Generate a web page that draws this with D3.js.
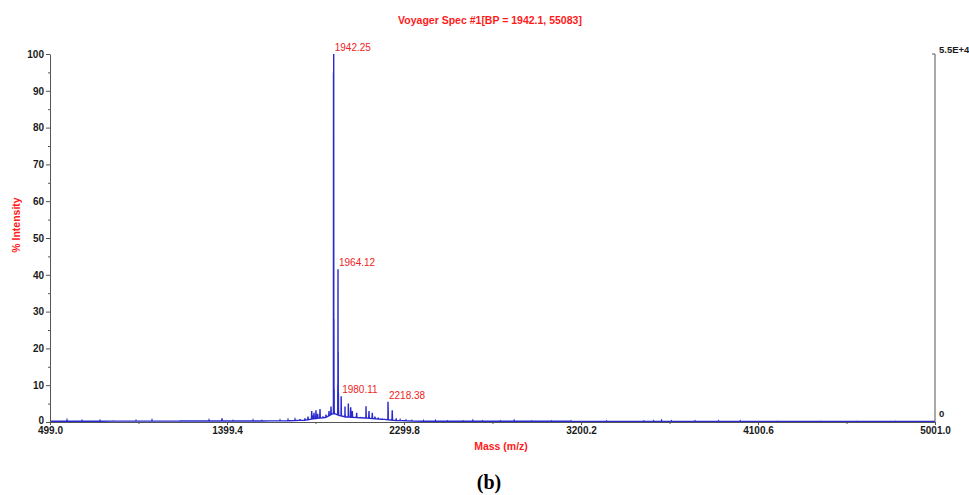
<!DOCTYPE html>
<html>
<head>
<meta charset="utf-8">
<script src="https://cdn.jsdelivr.net/npm/d3@7"></script>
<style>
    body { margin: 0; background: #fff; }
    svg { display: block; font-family: "Liberation Sans", Arial, sans-serif; }
    .tick text { font-size: 10px; font-weight: bold; fill: #1a1a1a; }
    .axisLabel { fill: #ff1a1a; font-size: 10.5px; font-weight: bold; }
    .peakLabel { fill: #ee1c24; font-size: 10px; }
</style>
</head>
<body>
<svg id="spectrum"></svg>
<script>
// x ticks (m/z) and y ticks (% intensity)
const massTicks = [499.0, 1399.4, 2299.8, 3200.2, 4100.6, 5001.0];
const massMinor = [949.2, 1849.6, 2750.0, 3650.4, 4550.8];
const intensityTicks = [0, 10, 20, 30, 40, 50, 60, 70, 80, 90, 100];
const intensityMinor = [5, 15, 25, 35, 45, 55, 65, 75, 85, 95];

// peaks
const peakMass = [585.5, 661.8, 753, 819.5, 936.5, 1017.9, 1160, 1307.8, 1374, 1430, 1465.5,
    1531.7, 1577.4, 1618, 1669, 1709.7, 1745.3, 1770.8, 1796.2, 1811.5,
    1830.3, 1836.8, 1842, 1852, 1860.8, 1872.5, 1887.8, 1903, 1918.3, 1928.4,
    1941.2, 1942.25, 1943.3, 1944.3, 1945.3,
    1963.1, 1964.12, 1965.1, 1966.1, 1967.1, 1980.11, 1981.1,
    1999.7, 2000.7, 2016.5, 2017.5, 2028.7, 2036.8, 2059, 2080,
    2106.5, 2107.5, 2121.7, 2138.5, 2152, 2169, 2190,
    2218.38, 2219.4, 2240, 2260, 2280, 2310, 2340,
    2400, 2460, 2520, 2600, 2650, 2700, 2790, 2860, 2950, 3050, 3150,
    3330, 3520, 3570, 3610, 3660, 3780, 3900, 4010, 4200, 4420, 4600, 4800];
const peakIntensity = [0.5, 0.4, 0.4, 0.3, 0.4, 0.5, 0.3, 0.5, 1.0, 0.4, 0.3,
    0.5, 0.4, 0.3, 0.5, 0.6, 0.7, 0.8, 1.0, 1.5,
    3.0, 1.8, 2.5, 3.2, 2.2, 3.5, 1.5, 2.0, 3.0, 4.2,
    95, 100, 28, 9, 3,
    10, 41.5, 19, 8, 3, 7, 3,
    4.2, 2, 5, 3, 4, 3, 2.5, 1.2,
    4.3, 2, 3, 2.5, 1.5, 1.2, 0.8,
    5.5, 3, 3.2, 1, 0.6, 0.5, 0.4,
    0.3, 0.4, 0.3, 0.3, 0.4, 0.3, 0.3, 0.4, 0.3, 0.3, 0.3,
    0.3, 0.3, 0.3, 0.4, 0.3, 0.3, 0.3, 0.3, 0.2, 0.2, 0.2, 0.2];

// baseline level under the spectrum
const baseMass = [499, 1700, 1800, 1840, 1900, 1935, 1950, 1970, 2000, 2100, 2200, 2260, 2400, 5001];
const baseLevel = [0.2, 0.3, 0.5, 0.9, 1.2, 2.2, 2.2, 1.8, 1.4, 1.1, 0.7, 0.4, 0.2, 0.15];

// labelled peaks
const labelMass = [1942.25, 1964.12, 1980.11, 2218.38];
const labelIntensity = [100, 41.5, 7, 5.5];

const margin = { top: 54, right: 34, bottom: 73, left: 50 };
const width = 969, height = 495;
const plotW = width - margin.left - margin.right;
const plotH = height - margin.top - margin.bottom;

const svg = d3.select('#spectrum').attr('width', width).attr('height', height);

const x = d3.scaleLinear().domain([499.0, 5001.0]).range([0, plotW]);
const y = d3.scaleLinear().domain([0, 100]).range([plotH, 0]);
const base = d3.scaleLinear().domain(baseMass).range(baseLevel);

const plot = svg.append('g')
    .attr('transform', 'translate(' + margin.left + ',' + margin.top + ')');

// spectrum vertices: baseline points plus a narrow spike per peak
let pts = baseMass.map((m, i) => [m, baseLevel[i]]);
peakMass.forEach((m, i) => {
    pts.push([m - 1.5, base(m - 1.5)]);
    pts.push([m, peakIntensity[i]]);
    pts.push([m + 1.5, base(m + 1.5)]);
});
pts.sort((a, b) => a[0] - b[0]);

plot.append('path')
    .datum(pts)
    .attr('fill', 'none')
    .attr('stroke', '#2a2acc')
    .attr('stroke-width', 1.4)
    .attr('d', d3.line().x(d => x(d[0])).y(d => y(d[1])));

// left axis
plot.append('g')
    .attr('class', 'yAxis')
    .call(d3.axisLeft(y).tickValues(intensityTicks).tickSize(4).tickSizeOuter(0).tickPadding(2));
plot.select('.yAxis .tick text').attr('dy', '0.1em');
plot.append('g')
    .call(d3.axisLeft(y).tickValues(intensityMinor).tickSize(2).tickSizeOuter(0).tickFormat(''))
    .select('.domain').remove();

// bottom axis
plot.append('g')
    .attr('transform', 'translate(0,' + plotH + ')')
    .call(d3.axisBottom(x).tickValues(massTicks).tickSize(3).tickSizeOuter(0)
        .tickPadding(2).tickFormat(d3.format('.1f')));
plot.append('g')
    .attr('transform', 'translate(0,' + plotH + ')')
    .call(d3.axisBottom(x).tickValues(massMinor).tickSize(2).tickSizeOuter(0).tickFormat(''))
    .select('.domain').remove();

plot.selectAll('.domain, .tick line').attr('stroke', '#555');

// right axis (absolute counts)
plot.append('line')
    .attr('x1', plotW).attr('x2', plotW)
    .attr('y1', 0).attr('y2', plotH)
    .attr('stroke', '#555');
plot.append('line')
    .attr('x1', plotW - 3).attr('x2', plotW)
    .attr('y1', 0).attr('y2', 0)
    .attr('stroke', '#555');
plot.append('text')
    .attr('x', plotW + 4).attr('y', -1)
    .style('font-size', '9.5px').style('font-weight', 'bold').attr('fill', '#1a1a1a')
    .text('5.5E+4');
plot.append('text')
    .attr('x', plotW + 4).attr('y', plotH - 5)
    .style('font-size', '9.5px').style('font-weight', 'bold').attr('fill', '#1a1a1a')
    .text('0');

// peak labels
plot.selectAll('.peakLabel')
    .data(labelMass)
    .join('text')
    .attr('class', 'peakLabel')
    .attr('x', d => x(d) + 1)
    .attr('y', (d, i) => y(labelIntensity[i]) - 3)
    .text(d => d.toFixed(2));

// titles
svg.append('text')
    .attr('class', 'axisLabel')
    .attr('x', 490).attr('y', 24)
    .style('text-anchor', 'middle')
    .text('Voyager Spec #1[BP = 1942.1, 55083]');

svg.append('text')
    .attr('class', 'axisLabel')
    .attr('transform', 'translate(20,225) rotate(-90)')
    .style('text-anchor', 'middle')
    .text('% Intensity');

svg.append('text')
    .attr('class', 'axisLabel')
    .attr('x', 501).attr('y', 450)
    .style('text-anchor', 'middle')
    .text('Mass (m/z)');

svg.append('text')
    .attr('x', 489).attr('y', 489)
    .style('text-anchor', 'middle')
    .style('font-family', '"Liberation Serif", "DejaVu Serif", serif')
    .style('font-size', '20px')
    .style('font-weight', 'bold')
    .text('(b)');
</script>
</body>
</html>
